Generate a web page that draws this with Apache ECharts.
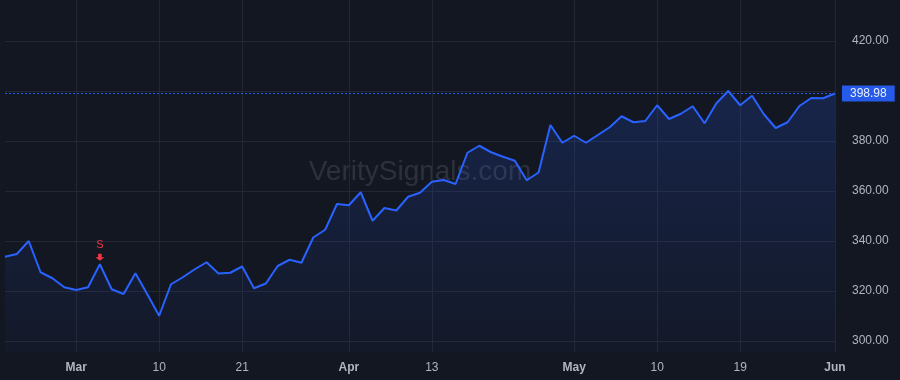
<!DOCTYPE html>
<html>
<head>
<meta charset="utf-8">
<title>VeritySignals</title>
<script src="https://cdn.jsdelivr.net/npm/echarts@6/dist/echarts.min.js"></script>
<style>
  html, body { margin: 0; padding: 0; background: #131722; }
  #chart { width: 900px; height: 380px; }
</style>
</head>
<body>
<div id="chart"></div>
<script>
// trading days, Feb 21 - Jun 1 2023
const dates = [
  '2023-02-21','2023-02-22','2023-02-23','2023-02-24','2023-02-27','2023-02-28',
  '2023-03-01','2023-03-02','2023-03-03','2023-03-06','2023-03-07','2023-03-08','2023-03-09','2023-03-10',
  '2023-03-13','2023-03-14','2023-03-15','2023-03-16','2023-03-17','2023-03-20','2023-03-21','2023-03-22',
  '2023-03-23','2023-03-24','2023-03-27','2023-03-28','2023-03-29','2023-03-30','2023-03-31',
  '2023-04-03','2023-04-04','2023-04-05','2023-04-06','2023-04-10','2023-04-11','2023-04-12','2023-04-13',
  '2023-04-14','2023-04-17','2023-04-18','2023-04-19','2023-04-20','2023-04-21','2023-04-24','2023-04-25',
  '2023-04-26','2023-04-27','2023-04-28',
  '2023-05-01','2023-05-02','2023-05-03','2023-05-04','2023-05-05','2023-05-08','2023-05-09','2023-05-10',
  '2023-05-11','2023-05-12','2023-05-15','2023-05-16','2023-05-17','2023-05-18','2023-05-19','2023-05-22',
  '2023-05-23','2023-05-24','2023-05-25','2023-05-26','2023-05-30','2023-05-31',
  '2023-06-01'
];

const closes = [
  333.7, 334.8, 340.0, 327.5, 325.1, 321.5,
  320.4, 321.5, 330.7, 320.7, 318.8, 327.1, 318.7, 310.1,
  322.7, 325.5, 328.7, 331.5, 327.0, 327.3, 329.8, 321.1,
  323.0, 330.0, 332.5, 331.3, 341.4, 344.5, 354.8,
  354.3, 359.5, 348.1, 353.2, 352.2, 357.7, 359.3, 363.7,
  364.4, 362.8, 375.3, 378.1, 375.5, 373.7, 372.1, 364.3,
  367.4, 386.4, 379.3,
  382.1, 379.3, 382.4, 385.5, 389.9, 387.5, 388.0, 394.3,
  388.8, 390.9, 393.9, 387.1, 395.1, 400.0, 394.3, 398.1,
  390.7, 385.2, 387.5, 394.0, 397.2, 397.1,
  398.98
];

// time-axis ticks
const tickDates = ['2023-03-01','2023-03-10','2023-03-21','2023-04-03','2023-04-13','2023-05-01','2023-05-10','2023-05-19','2023-06-01'];
const tickLabels = ['Mar','10','21','Apr','13','May','10','19','Jun'];
const monthTicks = ['Mar','Apr','May','Jun'];

// price-axis ticks (400 is hidden under the last-price tag)
const priceTicks = [300, 320, 340, 360, 380, 400, 420];
const priceLabels = [300, 320, 340, 360, 380, 420];

// signals
const signalDates = ['2023-03-03'];
const signalText = ['S'];

const lastPrice = closes[closes.length - 1];

const chart = echarts.init(document.getElementById('chart'));

const gridColor = '#232733';

// vertical grid lines at the time ticks
const vLines = tickDates.map(d => ({
  xAxis: d,
  label: { show: false },
  lineStyle: { color: gridColor, type: 'solid', width: 1, opacity: 1 }
}));

chart.setOption({
  backgroundColor: '#131722',
  animation: false,
  textStyle: { fontFamily: '"Liberation Sans", Arial, sans-serif' },
  graphic: [{
    type: 'text',
    x: 420,
    y: 172,
    z: 0,
    silent: true,
    style: {
      text: 'VeritySignals.com',
      fontSize: 28,
      fontFamily: '"Liberation Sans", Arial, sans-serif',
      fill: 'rgba(150,155,170,0.2)',
      align: 'center',
      verticalAlign: 'middle'
    }
  }],
  grid: { left: 5, right: 65, top: 0, bottom: 28 },
  xAxis: {
    type: 'category',
    data: dates,
    boundaryGap: false,
    axisLine: { show: false },
    axisTick: { show: false },
    axisLabel: {
      interval: (idx) => tickDates.indexOf(dates[idx]) >= 0,
      margin: 10,
      fontSize: 12,
      color: '#b2b5be',
      formatter: (val) => {
        const t = tickLabels[tickDates.indexOf(val)];
        return monthTicks.indexOf(t) >= 0 ? '{m|' + t + '}' : t;
      },
      rich: { m: { fontWeight: 'bold', fontSize: 12, color: '#b2b5be' } }
    },
    splitLine: { show: false }
  },
  yAxis: {
    type: 'value',
    position: 'right',
    min: 295.6,
    max: 436.4,
    axisLine: { show: true, lineStyle: { color: '#2a2e39' } },
    axisTick: { show: false, customValues: priceTicks },
    axisLabel: {
      customValues: priceLabels,
      margin: 17,
      fontSize: 12,
      color: '#b2b5be',
      formatter: (v) => v.toFixed(2)
    },
    splitLine: { show: true, lineStyle: { color: gridColor, width: 1 } }
  },
  series: [{
    type: 'line',
    data: closes,
    symbol: 'none',
    z: 3,
    lineStyle: { color: '#2962ff', width: 2 },
    areaStyle: {
      color: new echarts.graphic.LinearGradient(0, 0, 0, 1, [
        { offset: 0, color: 'rgba(41,98,255,0.26)' },
        { offset: 1, color: 'rgba(41,98,255,0.04)' }
      ])
    },
    markLine: {
      silent: true,
      z: 1,
      symbol: ['none', 'none'],
      lineStyle: { color: '#2962ff', type: [2, 2], width: 1, opacity: 0.9 },
      label: {
        show: true,
        position: 'end',
        distance: 7,
        formatter: () => lastPrice.toFixed(2),
        color: '#ffffff',
        fontSize: 12,
        backgroundColor: '#2962ff',
        padding: [2, 8, 2, 8],
        lineHeight: 12
      },
      data: vLines.concat([{ yAxis: lastPrice }])
    },
    markPoint: {
      silent: true,
      symbol: 'path://M3,0 L7,0 L7,5 L10,5 L5,10 L0,5 L3,5 Z',
      symbolSize: [9, 7],
      symbolOffset: [0, -7],
      itemStyle: { color: '#f23645' },
      label: {
        show: true,
        position: 'top',
        distance: 3,
        color: '#f23645',
        fontSize: 11
      },
      data: signalDates.map((d, i) => ({
        coord: [d, closes[dates.indexOf(d)]],
        value: signalText[i],
        label: { formatter: signalText[i] }
      }))
    }
  }]
});
</script>
</body>
</html>
